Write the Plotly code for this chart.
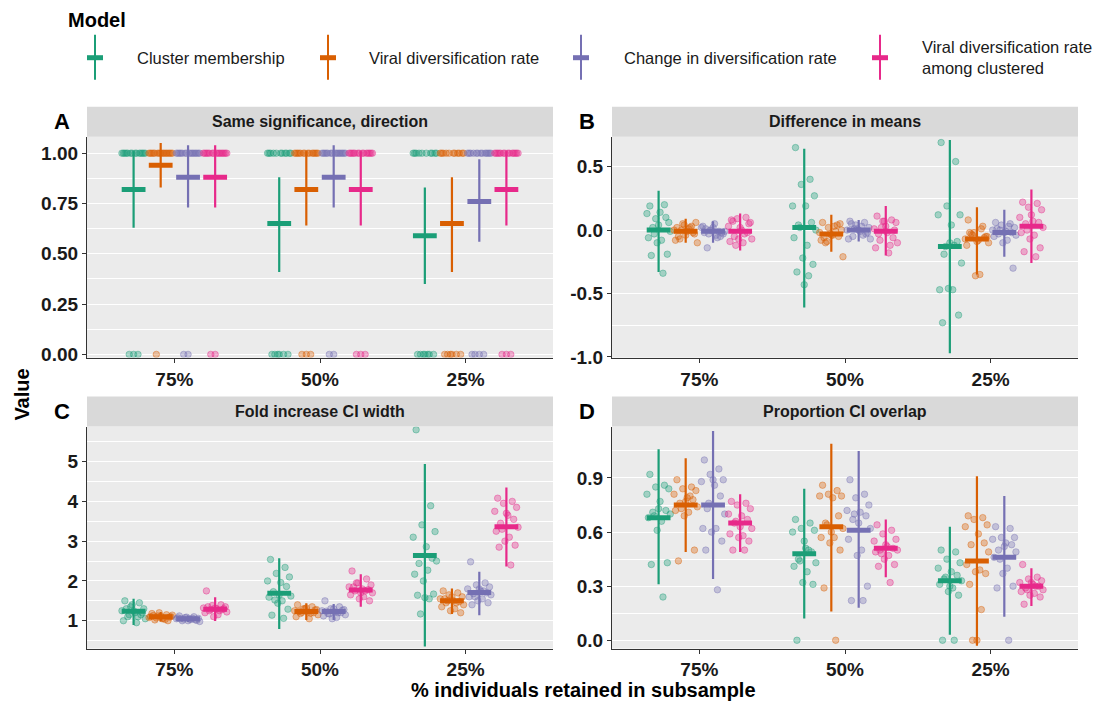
import plotly.graph_objects as go

W, H = 1104, 701

models = ["Cluster membership", "Viral diversification rate",
          "Change in diversification rate", "Viral diversification rate<br>among clustered"]
colors = ["#1B9E77", "#D95F02", "#7570B3", "#E7298A"]
subsamples = ["75%", "50%", "25%"]

# ---------------- Panel A: Same significance, direction (17 replicates, 0/1) ----------------
A_n = 17
A_same = [[14, 11, 10], [16, 14, 11], [15, 15, 13], [15, 14, 14]]   # count of 1s per model / subsample
A_mean = [[0.82, 0.65, 0.59], [0.94, 0.82, 0.65], [0.88, 0.88, 0.76], [0.88, 0.82, 0.82]]
A_lo = [[0.63, 0.41, 0.35], [0.83, 0.64, 0.41], [0.73, 0.73, 0.56], [0.73, 0.64, 0.64]]
A_hi = [[1.01, 0.88, 0.83], [1.05, 1.01, 0.88], [1.04, 1.04, 0.97], [1.04, 1.01, 1.01]]

# ---------------- Panel B: Difference in means ----------------
B_pts = [
    [[0.19, 0.20, 0.09, 0.06, 0.13, 0.14, 0.10, 0.02, -0.01, -0.06, -0.08, -0.10, -0.19, -0.20, -0.34, 0.04, -0.03],
     [0.65, 0.40, 0.36, 0.27, 0.19, 0.19, 0.06, 0.04, 0.00, -0.06, -0.12, -0.22, -0.27, -0.33, -0.36, -0.43, 0.02],
     [0.69, 0.54, 0.19, 0.12, 0.12, 0.04, -0.09, -0.19, -0.26, -0.47, -0.47, -0.46, -0.67, -0.73, -0.12, -0.10, -0.13]],
    [[0.02, 0.03, 0.05, 0.06, 0.00, -0.01, -0.02, -0.07, -0.10, -0.08, 0.01, 0.04, -0.03, -0.05, 0.02, -0.04, 0.00],
     [0.06, 0.04, 0.02, 0.00, -0.02, -0.04, -0.05, -0.10, -0.21, -0.08, 0.03, -0.03, 0.05, -0.06, -0.01, -0.04, -0.09],
     [0.08, 0.03, -0.02, -0.05, -0.07, -0.08, -0.06, -0.03, -0.10, -0.12, -0.35, -0.36, -0.05, -0.02, 0.01, -0.09, -0.04]],
    [[-0.02, -0.01, 0.00, -0.03, 0.02, 0.05, -0.05, -0.14, -0.01, 0.03, -0.04, 0.00, -0.02, 0.01, -0.06, 0.02, -0.03],
     [0.07, 0.06, 0.04, 0.02, 0.00, -0.01, -0.03, -0.05, -0.07, -0.07, 0.03, 0.01, -0.02, 0.05, -0.04, 0.00, 0.01],
     [0.06, 0.05, 0.04, 0.02, 0.00, -0.01, -0.02, -0.03, -0.04, -0.05, -0.08, -0.10, -0.30, 0.01, 0.03, -0.02, 0.00]],
    [[0.08, 0.10, 0.09, 0.06, 0.03, 0.00, -0.02, -0.05, -0.07, -0.09, -0.10, -0.07, 0.05, 0.07, -0.03, 0.02, -0.12],
     [0.11, 0.08, 0.07, 0.06, 0.01, -0.02, -0.06, -0.08, -0.10, -0.14, -0.18, 0.07, 0.00, -0.03, -0.12, 0.03, 0.02],
     [0.22, 0.21, 0.18, 0.16, 0.10, 0.07, 0.06, 0.05, 0.02, -0.02, -0.04, -0.07, -0.14, -0.17, -0.21, 0.12, 0.00]],
]
B_mean = [[0.00, 0.02, -0.13], [-0.01, -0.03, -0.07], [-0.01, 0.00, -0.02], [-0.01, -0.01, 0.03]]
B_lo = [[-0.33, -0.61, -0.97], [-0.10, -0.17, -0.35], [-0.10, -0.09, -0.21], [-0.16, -0.20, -0.26]]
B_hi = [[0.31, 0.64, 0.71], [0.09, 0.12, 0.18], [0.07, 0.08, 0.16], [0.13, 0.19, 0.32]]

# ---------------- Panel C: Fold increase CI width ----------------
C_pts = [
    [[1.50, 1.45, 1.35, 1.30, 1.25, 1.20, 1.15, 1.10, 1.05, 1.00, 0.95, 1.40, 1.20, 1.30, 1.10, 1.25, 1.15],
     [2.54, 2.34, 2.19, 2.10, 2.00, 1.96, 1.86, 1.73, 1.62, 1.59, 1.50, 1.44, 1.29, 1.14, 1.06, 1.65, 1.52],
     [5.80, 3.89, 3.41, 3.24, 3.10, 2.86, 2.57, 2.44, 2.50, 2.17, 2.27, 2.00, 1.67, 1.64, 1.55, 1.58, 1.17]],
    [[1.18, 1.15, 1.12, 1.10, 1.08, 1.05, 1.00, 1.02, 1.14, 1.10, 1.06, 1.20, 1.09, 1.13, 1.03, 1.11, 1.07],
     [1.40, 1.35, 1.30, 1.28, 1.25, 1.22, 1.20, 1.18, 1.15, 1.10, 1.05, 1.30, 1.27, 1.23, 1.19, 1.32, 1.21],
     [1.75, 1.70, 1.65, 1.60, 1.55, 1.50, 1.48, 1.45, 1.40, 1.35, 1.30, 1.25, 1.20, 1.55, 1.45, 1.60, 1.50]],
    [[1.12, 1.10, 1.08, 1.06, 1.05, 1.04, 1.02, 1.00, 0.98, 1.07, 1.03, 1.09, 1.01, 1.05, 1.06, 1.00, 1.04],
     [1.50, 1.35, 1.30, 1.28, 1.25, 1.22, 1.20, 1.18, 1.15, 1.12, 1.08, 1.05, 1.26, 1.24, 1.20, 1.30, 1.17],
     [2.48, 1.95, 1.90, 1.85, 1.80, 1.75, 1.70, 1.68, 1.65, 1.60, 1.55, 1.50, 1.45, 1.40, 1.75, 1.80, 1.60]],
    [[1.75, 1.40, 1.38, 1.35, 1.32, 1.30, 1.28, 1.25, 1.22, 1.20, 1.15, 1.10, 1.30, 1.35, 1.25, 1.32, 1.28],
     [2.25, 2.05, 1.95, 1.90, 1.85, 1.80, 1.78, 1.75, 1.70, 1.65, 1.60, 1.55, 1.50, 1.85, 1.75, 1.70, 1.95],
     [4.08, 4.00, 3.95, 3.85, 3.75, 3.65, 3.55, 3.45, 3.35, 3.25, 3.10, 3.00, 2.90, 2.85, 2.40, 3.70, 3.30]],
]
C_mean = [[1.24, 1.69, 2.64], [1.10, 1.23, 1.50], [1.05, 1.23, 1.71], [1.29, 1.77, 3.36]]
C_lo = [[0.89, 0.79, 0.35], [0.98, 1.02, 1.17], [0.97, 1.02, 1.14], [0.99, 1.35, 2.36]]
C_hi = [[1.55, 2.57, 4.94], [1.22, 1.44, 1.81], [1.13, 1.42, 2.23], [1.59, 2.17, 4.35]]

# ---------------- Panel D: Proportion CI overlap ----------------
D_pts = [
    [[0.92, 0.86, 0.85, 0.84, 0.81, 0.77, 0.72, 0.71, 0.70, 0.68, 0.66, 0.61, 0.43, 0.42, 0.24, 0.73, 0.69],
     [0.67, 0.65, 0.62, 0.61, 0.60, 0.51, 0.49, 0.45, 0.43, 0.41, 0.38, 0.32, 0.31, 0.00, 0.50, 0.55, 0.44],
     [0.50, 0.49, 0.45, 0.43, 0.40, 0.38, 0.36, 0.34, 0.33, 0.31, 0.29, 0.27, 0.25, 0.00, 0.00, 0.30, 0.35]],
    [[0.89, 0.85, 0.84, 0.83, 0.81, 0.79, 0.78, 0.76, 0.74, 0.72, 0.71, 0.69, 0.50, 0.44, 0.80, 0.77, 0.73],
     [0.86, 0.83, 0.81, 0.80, 0.80, 0.79, 0.69, 0.65, 0.62, 0.57, 0.57, 0.54, 0.50, 0.29, 0.00, 0.60, 0.64],
     [0.69, 0.68, 0.67, 0.64, 0.63, 0.59, 0.54, 0.53, 0.49, 0.42, 0.39, 0.38, 0.37, 0.31, 0.17, 0.00, 0.00]],
    [[1.00, 0.95, 0.92, 0.89, 0.88, 0.86, 0.80, 0.73, 0.70, 0.62, 0.62, 0.60, 0.55, 0.50, 0.28, 0.89, 0.76],
     [0.89, 0.81, 0.79, 0.75, 0.72, 0.71, 0.69, 0.67, 0.62, 0.56, 0.50, 0.47, 0.30, 0.22, 0.22, 0.65, 0.70],
     [0.63, 0.62, 0.57, 0.57, 0.56, 0.54, 0.53, 0.50, 0.49, 0.46, 0.40, 0.37, 0.30, 0.29, 0.00, 0.52, 0.45]],
    [[0.77, 0.76, 0.75, 0.73, 0.70, 0.69, 0.67, 0.65, 0.62, 0.59, 0.58, 0.57, 0.55, 0.50, 0.50, 0.63, 0.66],
     [0.64, 0.61, 0.59, 0.56, 0.55, 0.52, 0.51, 0.50, 0.50, 0.49, 0.47, 0.45, 0.42, 0.41, 0.32, 0.53, 0.48],
     [0.42, 0.35, 0.34, 0.33, 0.32, 0.31, 0.30, 0.29, 0.28, 0.27, 0.26, 0.25, 0.24, 0.20, 0.30, 0.32, 0.28]],
]
D_mean = [[0.68, 0.48, 0.33], [0.75, 0.63, 0.44], [0.75, 0.61, 0.46], [0.65, 0.51, 0.30]]
D_lo = [[0.31, 0.12, 0.03], [0.49, 0.16, -0.03], [0.34, 0.18, 0.13], [0.49, 0.35, 0.19]]
D_hi = [[1.06, 0.84, 0.63], [1.01, 1.09, 0.91], [1.16, 1.05, 0.80], [0.81, 0.67, 0.40]]

A_pts = [[[1.0] * k + [0.0] * (A_n - k) for k in row] for row in A_same]

panel_titles = ["Same significance, direction", "Difference in means",
                "Fold increase CI width", "Proportion CI overlap"]
panel_letters = ["A", "B", "C", "D"]

# ---------------- styling / layout ----------------
FONT = "Liberation Sans"
DODGE = [-0.28, -0.094, 0.094, 0.28]
JIT = [-0.06, 0.04, -0.02, 0.07, -0.08, 0.01, 0.05, -0.04, 0.08,
       -0.07, 0.02, -0.01, 0.06, -0.05, 0.03, 0.0, -0.03]
VCORR = 1.0 / 0.986   # small vertical correction observed in rendering


def px(x):
    return x / W


def py(y):
    y2 = 20 + (y - 20) * VCORR
    return 1 - y2 / H


# pixel boxes of the plotting areas (left, right, top, bottom)
boxes = [(87, 553, 137, 358), (612, 1078, 137, 358), (87, 553, 427, 649), (612, 1078, 427, 649)]
yranges = [[-0.016, 1.082], [-1.005, 0.736], [0.30, 5.88], [-0.046, 1.185]]
ytickv = [[0, 0.25, 0.5, 0.75, 1.0], [-1.0, -0.5, 0.0, 0.5], [1, 2, 3, 4, 5], [0.0, 0.3, 0.6, 0.9]]
ytickt = [["0.00", "0.25", "0.50", "0.75", "1.00"], ["-1.0", "-0.5", "0.0", "0.5"],
          ["1", "2", "3", "4", "5"], ["0.0", "0.3", "0.6", "0.9"]]
yminor = [[0.125, 0.375, 0.625, 0.875], [-0.75, -0.25, 0.25], [0.5, 1.5, 2.5, 3.5, 4.5, 5.5],
          [0.15, 0.45, 0.75, 1.05]]

panels = [(A_pts, A_mean, A_lo, A_hi), (B_pts, B_mean, B_lo, B_hi),
          (C_pts, C_mean, C_lo, C_hi), (D_pts, D_mean, D_lo, D_hi)]


def rgba(hexc, a):
    h = hexc.lstrip("#")
    r, g, b = int(h[0:2], 16), int(h[2:4], 16), int(h[4:6], 16)
    return f"rgba({r},{g},{b},{a})"


fig = go.Figure()

for p, (pts, mean, lo, hi) in enumerate(panels):
    xa = "x" if p == 0 else f"x{p + 1}"
    ya = "y" if p == 0 else f"y{p + 1}"
    # jittered points
    for m in range(4):
        xs, ys = [], []
        for s in range(3):
            for i, v in enumerate(pts[m][s]):
                xs.append(s + 1 + DODGE[m] + JIT[i % len(JIT)])
                ys.append(v)
        fig.add_trace(go.Scatter(
            x=xs, y=ys, mode="markers", xaxis=xa, yaxis=ya, showlegend=False,
            marker=dict(size=6.5, color=rgba(colors[m], 0.35),
                        line=dict(color=rgba(colors[m], 0.5), width=0.8)),
            hoverinfo="skip"))
    # error bars
    for m in range(4):
        xs, ys = [], []
        for s in range(3):
            x0 = s + 1 + DODGE[m]
            xs += [x0, x0, None]
            ys += [lo[m][s], hi[m][s], None]
        fig.add_trace(go.Scatter(
            x=xs, y=ys, mode="lines", xaxis=xa, yaxis=ya, showlegend=False,
            line=dict(color=colors[m], width=2.2), hoverinfo="skip"))
    # mean bars
    for m in range(4):
        fig.add_trace(go.Scatter(
            x=[s + 1 + DODGE[m] for s in range(3)], y=mean[m], mode="markers",
            xaxis=xa, yaxis=ya, showlegend=False, name=models[m],
            marker=dict(symbol="line-ew", size=17, color=colors[m],
                        line=dict(color=colors[m], width=5))))

layout = dict(
    width=W, height=H,
    margin=dict(l=0, r=0, t=0, b=0),
    paper_bgcolor="white", plot_bgcolor="#EBEBEB",
    showlegend=False,
    font=dict(family=FONT, color="#1A1A1A"),
)

for p in range(4):
    l, r, t, b = boxes[p]
    xk = "xaxis" if p == 0 else f"xaxis{p + 1}"
    yk = "yaxis" if p == 0 else f"yaxis{p + 1}"
    ya = "y" if p == 0 else f"y{p + 1}"
    xa = "x" if p == 0 else f"x{p + 1}"
    layout[xk] = dict(
        domain=[px(l), px(r)], anchor=ya, range=[0.4, 3.6],
        tickvals=[1, 2, 3], ticktext=subsamples, showgrid=False, zeroline=False,
        showline=True, linecolor="#333333", linewidth=1.3,
        ticks="outside", ticklen=4, tickwidth=1.2, tickcolor="#333333",
        tickfont=dict(family=FONT, size=19, color="#1A1A1A", weight="bold"))
    layout[yk] = dict(
        domain=[py(b), py(t)], anchor=xa, range=yranges[p],
        tickvals=ytickv[p], ticktext=ytickt[p], showgrid=True, gridcolor="white",
        gridwidth=1.3, zeroline=False,
        showline=True, linecolor="#333333", linewidth=1.3,
        ticks="outside", ticklen=4, tickwidth=1.2, tickcolor="#333333",
        tickfont=dict(family=FONT, size=19, color="#1A1A1A", weight="bold"),
        minor=dict(tickvals=yminor[p], showgrid=True, gridcolor="white",
                   gridwidth=0.6, ticks=""))

shapes = []
annotations = []

# facet strips and panel letters
for p in range(4):
    l, r, t, b = boxes[p]
    shapes.append(dict(type="rect", xref="paper", yref="paper",
                       x0=px(l), x1=px(r), y0=py(t), y1=py(t - 30),
                       fillcolor="#D9D9D9", line=dict(width=0), layer="above"))
    annotations.append(dict(xref="paper", yref="paper", x=px((l + r) / 2), y=py(t - 15),
                            text=panel_titles[p], showarrow=False,
                            font=dict(family=FONT, size=16, color="#1A1A1A", weight="bold"),
                            xanchor="center", yanchor="middle"))
    annotations.append(dict(xref="paper", yref="paper", x=px(l - 25), y=py(t - 15),
                            text=panel_letters[p], showarrow=False,
                            font=dict(family=FONT, size=22, color="#000000", weight="bold"),
                            xanchor="center", yanchor="middle"))

# axis titles
annotations.append(dict(xref="paper", yref="paper", x=px(583), y=py(690),
                        text="% individuals retained in subsample", showarrow=False,
                        font=dict(family=FONT, size=20, color="#000000", weight="bold"),
                        xanchor="center", yanchor="middle"))
annotations.append(dict(xref="paper", yref="paper", x=px(22), y=py(395),
                        text="Value", showarrow=False, textangle=-90,
                        font=dict(family=FONT, size=20, color="#000000", weight="bold"),
                        xanchor="center", yanchor="middle"))

# legend (drawn manually to reproduce ggplot crossbar/errorbar key)
annotations.append(dict(xref="paper", yref="paper", x=px(66), y=py(20),
                        text="Model", showarrow=False,
                        font=dict(family=FONT, size=20, color="#000000", weight="bold"),
                        xanchor="left", yanchor="middle"))
leg_glyph_x = [95, 328, 581, 880]
leg_text_x = [135, 367, 622, 920]
for m in range(4):
    gx = leg_glyph_x[m]
    shapes.append(dict(type="line", xref="paper", yref="paper",
                       x0=px(gx), x1=px(gx), y0=py(35), y1=py(80),
                       line=dict(color=colors[m], width=2)))
    shapes.append(dict(type="line", xref="paper", yref="paper",
                       x0=px(gx - 8), x1=px(gx + 8), y0=py(58), y1=py(58),
                       line=dict(color=colors[m], width=5)))
    annotations.append(dict(xref="paper", yref="paper", x=px(leg_text_x[m]), y=py(58),
                            text=models[m], showarrow=False, align="left",
                            font=dict(family=FONT, size=16.5, color="#1A1A1A"),
                            xanchor="left", yanchor="middle"))

layout["shapes"] = shapes
layout["annotations"] = annotations
fig.update_layout(**layout)

fig.write_html("out.html", config={"displayModeBar": False},
               post_script="document.body.style.margin='0';document.body.style.overflow='hidden';")
